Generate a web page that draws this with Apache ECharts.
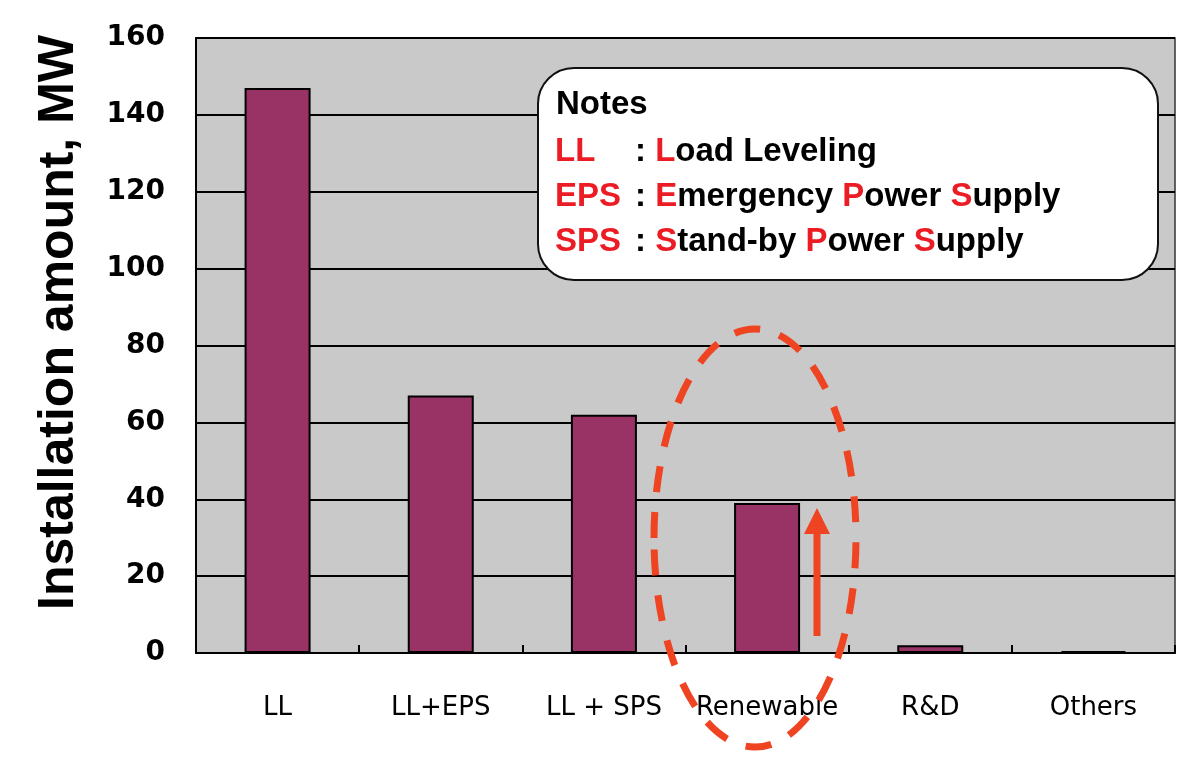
<!DOCTYPE html>
<html>
<head>
<meta charset="utf-8">
<script src="https://cdn.jsdelivr.net/npm/echarts@6/dist/echarts.min.js"></script>
<style>
  html, body { margin: 0; padding: 0; background: #fff; }
  #chart { width: 1185px; height: 758px; }
</style>
</head>
<body>
<div id="chart"></div>
<script>
// data
const categories = ['LL', 'LL+EPS', 'LL + SPS', 'Renewable', 'R&D', 'Others'];
const installMW = [147, 67, 62, 39, 2, 0.5];
const yTicks = [0, 20, 40, 60, 80, 100, 120, 140, 160];

// notes box content: [key, [text pieces, red flag]]
const noteRows = [
    ['LL', [['L', 1], ['oad Leveling', 0]]],
    ['EPS', [['E', 1], ['mergency ', 0], ['P', 1], ['ower ', 0], ['S', 1], ['upply', 0]]],
    ['SPS', [['S', 1], ['tand-by ', 0], ['P', 1], ['ower ', 0], ['S', 1], ['upply', 0]]]
];

const RED = '#ec1c24';
const MARK = '#ee4422';
const NOTE_FONT = 'bold 33px "Liberation Sans", Arial';

var myChart = echarts.init(document.getElementById('chart'));

// build the notes box
var noteGraphics = [
    {
        type: 'rect',
        shape: { x: 538, y: 68, width: 620, height: 212, r: 36 },
        style: { fill: '#fff', stroke: '#111', lineWidth: 2 },
        z: 10
    },
    {
        type: 'text', x: 556, y: 105, z: 11,
        style: { text: 'Notes', fill: '#000', font: NOTE_FONT, verticalAlign: 'middle' }
    }
];
noteRows.forEach(function (row, i) {
    var yy = 152 + i * 45;
    noteGraphics.push({
        type: 'text', x: 555, y: yy, z: 11,
        style: { text: row[0], fill: RED, font: NOTE_FONT, verticalAlign: 'middle' }
    });
    var txt = ': ' + row[1].map(function (p) {
        return '{' + (p[1] ? 'r' : 'k') + '|' + p[0] + '}';
    }).join('');
    noteGraphics.push({
        type: 'text', x: 635, y: yy, z: 11,
        style: {
            text: txt,
            fill: '#000',
            font: NOTE_FONT,
            verticalAlign: 'middle',
            rich: {
                r: { fill: RED, font: NOTE_FONT },
                k: { fill: '#000', font: NOTE_FONT }
            }
        }
    });
});

// dashed ellipse + arrow around Renewable
var markGraphics = [
    {
        type: 'ellipse',
        shape: { cx: 755, cy: 538, rx: 101, ry: 209 },
        style: { fill: 'none', stroke: MARK, lineWidth: 7, lineDash: [26, 20] },
        z: 12
    },
    {
        type: 'line',
        shape: { x1: 817, y1: 636, x2: 817, y2: 530 },
        style: { stroke: MARK, lineWidth: 7 },
        z: 12
    },
    {
        type: 'polygon',
        shape: { points: [[804, 534], [830, 534], [817, 508]] },
        style: { fill: MARK },
        z: 12
    }
];

var option = {
    backgroundColor: '#fff',
    animation: false,
    grid: {
        left: 196,
        right: 10,
        top: 38,
        bottom: 105,
        show: true,
        backgroundColor: '#c9c9c9',
        borderColor: '#333',
        borderWidth: 1.5
    },
    xAxis: {
        type: 'category',
        data: categories,
        axisLine: { lineStyle: { color: '#000', width: 2 } },
        axisTick: { show: true, inside: true, length: 8, interval: 0, lineStyle: { color: '#000', width: 2 } },
        axisLabel: {
            interval: 0,
            margin: 42,
            color: '#000',
            fontSize: 26,
            fontFamily: '"DejaVu Sans", sans-serif'
        }
    },
    yAxis: {
        type: 'value',
        min: 0,
        max: 160,
        interval: 20,
        name: 'Installation amount, MW',
        nameLocation: 'middle',
        nameGap: 112,
        nameTextStyle: {
            color: '#000',
            fontSize: 50,
            fontWeight: 'bold',
            fontFamily: '"Liberation Sans", Arial',
            padding: [0, 0, 0, 46]
        },
        axisLine: { show: true, lineStyle: { color: '#000', width: 2 } },
        axisTick: { show: false },
        splitLine: { lineStyle: { color: '#000', width: 2 } },
        axisLabel: {
            margin: 31,
            color: '#000',
            fontSize: 28,
            fontWeight: 'bold',
            fontFamily: '"DejaVu Sans", sans-serif',
            formatter: function (v) { return yTicks.indexOf(v) >= 0 ? String(v) : ''; }
        }
    },
    series: [
        {
            type: 'bar',
            data: installMW,
            barWidth: 66,
            itemStyle: { color: '#993366', borderColor: '#000', borderWidth: 2 }
        }
    ],
    graphic: noteGraphics.concat(markGraphics)
};

option && myChart.setOption(option);
</script>
</body>
</html>
